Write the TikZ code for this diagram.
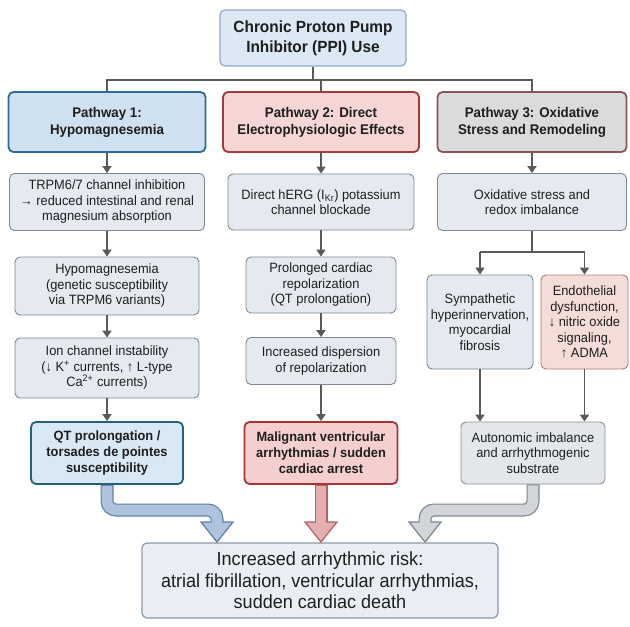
\documentclass[tikz,border=0pt]{standalone}
\usepackage{fontspec}
\setmainfont[FakeStretch=0.95]{Liberation Sans}
\usetikzlibrary{arrows.meta}
\definecolor{txt}{HTML}{1E1E1E}
\definecolor{arr}{HTML}{5A5A5A}
\definecolor{topfill}{HTML}{DCE9F5}
\definecolor{topdraw}{HTML}{8FAAC6}
\definecolor{pafill}{HTML}{CFE1F0}
\definecolor{padraw}{HTML}{2B6A99}
\definecolor{pbfill}{HTML}{F6D5D5}
\definecolor{pbdraw}{HTML}{A8393B}
\definecolor{pcfill}{HTML}{D9DBDD}
\definecolor{pcdraw}{HTML}{8C5555}
\definecolor{boxfill}{HTML}{E4EAF0}
\definecolor{boxdraw}{HTML}{7D8894}
\definecolor{qtfill}{HTML}{D8E8F5}
\definecolor{qtdraw}{HTML}{24607F}
\definecolor{mafill}{HTML}{F5CFCF}
\definecolor{madraw}{HTML}{A83436}
\definecolor{enfill}{HTML}{F4DDD9}
\definecolor{endraw}{HTML}{B07A74}
\definecolor{aufill}{HTML}{E4E7EA}
\definecolor{audraw}{HTML}{8A9096}
\definecolor{botfill}{HTML}{E8EEF3}
\definecolor{botdraw}{HTML}{8C9BA8}
\definecolor{fbl}{HTML}{AFC4DC}
\definecolor{fbd}{HTML}{5E7FA6}
\definecolor{fpl}{HTML}{E6AFAF}
\definecolor{fpd}{HTML}{B06464}
\definecolor{fgl}{HTML}{D2D6DA}
\definecolor{fgd}{HTML}{7E868E}
\begin{document}
\begin{tikzpicture}[x=1pt,y=-1pt,
  base/.style={rounded corners=5pt, align=center, inner sep=1pt, text=txt,
    font=\fontsize{13.5}{15.5}\selectfont},
  plain/.style={base, draw=boxdraw, fill=boxfill, line width=0.9pt},
  topbox/.style={base, draw=topdraw, fill=topfill, line width=1.2pt,
    font=\bfseries\fontsize{16.2}{20}\selectfont},
  head/.style={base, line width=1.8pt, font=\bfseries\fontsize{14}{17}\selectfont},
  strong/.style={base, line width=1.8pt, font=\bfseries\fontsize{13.5}{16}\selectfont},
  conn/.style={draw=arr, line width=1.8pt, -{Triangle[length=7pt,width=9pt]}},
  bus/.style={draw=arr, line width=1.8pt},
]
\useasboundingbox[fill=white] (0,0) rectangle (630,627);

% top
\node[topbox, minimum width=186pt, minimum height=56pt] (T) at (313,38)
  {Chronic Proton Pump\\Inhibitor (PPI) Use};

% headers
\node[head, draw=padraw, fill=pafill, minimum width=197pt, minimum height=60pt] (P1) at (107,122)
  {Pathway 1:\\Hypomagnesemia};
\node[head, draw=pbdraw, fill=pbfill, minimum width=196pt, minimum height=60pt] (P2) at (321,122)
  {Pathway 2: Direct\\Electrophysiologic Effects};
\node[head, draw=pcdraw, fill=pcfill, minimum width=189pt, minimum height=60pt] (P3) at (532,122)
  {Pathway 3: Oxidative\\Stress and Remodeling};

\coordinate (busy) at (313,80);
\draw[bus] (T.south) -- (T.south |- busy);
\draw[bus] (P1.north) -- (P1.north |- busy) -- (P3.north |- busy) -- (P3.north);
\draw[bus] (P2.north |- busy) -- (P2.north);

% column 1
\node[plain, minimum width=195pt, minimum height=57pt] (A1) at (107,202)
  {TRPM6/7 channel inhibition\\→ reduced intestinal and renal\\magnesium absorption};
\node[plain, minimum width=184pt, minimum height=58pt] (A2) at (107,286)
  {Hypomagnesemia\\(genetic susceptibility\\via TRPM6 variants)};
\node[plain, minimum width=184pt, minimum height=60pt] (A3) at (107,368)
  {Ion channel instability\\(↓ K\textsuperscript{+} currents, ↑ L-type\\Ca\textsuperscript{2+} currents)};
\node[strong, draw=qtdraw, fill=qtfill, minimum width=152pt, minimum height=62pt] (A4) at (107,453)
  {QT prolongation /\\torsades de pointes\\susceptibility};

% column 2
\node[plain, minimum width=186pt, minimum height=56pt] (B1) at (321,202)
  {Direct hERG (I\textsubscript{Kr}) potassium\\channel blockade};
\node[plain, minimum width=150pt, minimum height=56pt] (B2) at (321,285)
  {Prolonged cardiac\\repolarization\\(QT prolongation)};
\node[plain, minimum width=150pt, minimum height=47pt] (B3) at (321,361)
  {Increased dispersion\\of repolarization};
\node[strong, draw=madraw, fill=mafill, minimum width=153pt, minimum height=62pt] (B4) at (321,453)
  {Malignant ventricular\\arrhythmias / sudden\\cardiac arrest};

% column 3
\node[plain, minimum width=189pt, minimum height=57pt] (C1) at (532,202)
  {Oxidative stress and\\redox imbalance};
\node[plain, minimum width=106pt, minimum height=94pt] (C2) at (480,322)
  {Sympathetic\\hyperinnervation,\\myocardial\\fibrosis};
\node[plain, draw=endraw, fill=enfill, minimum width=87pt, minimum height=94pt] (C3) at (584.5,322)
  {Endothelial\\dysfunction,\\↓ nitric oxide\\signaling,\\↑ ADMA};
\node[plain, draw=audraw, fill=aufill, minimum width=144pt, minimum height=62pt] (C4) at (533,453)
  {Autonomic imbalance\\and arrhythmogenic\\substrate};

% bottom
\node[base, draw=botdraw, fill=botfill, line width=1.2pt, minimum width=356pt, minimum height=75pt,
  font=\fontsize{19}{21.5}\selectfont] (D) at (320,580.5)
  {Increased arrhythmic risk:\\atrial fibrillation, ventricular arrhythmias,\\sudden cardiac death};

% connectors
\draw[conn] (P1.south) -- (P1.south |- A1.north);
\draw[conn] (A1) -- (A2);
\draw[conn] (A2) -- (A3);
\draw[conn] (A3) -- (A4);
\draw[conn] (P2.south) -- (P2.south |- B1.north);
\draw[conn] (B1) -- (B2);
\draw[conn] (B2) -- (B3);
\draw[conn] (B3) -- (B4);
\draw[conn] (P3.south) -- (P3.south |- C1.north);
\coordinate (br) at (532,252);
\draw[bus] (C1.south) -- (br);
\draw[conn] (C2.north |- br) -- (C2.north);
\draw[conn] (C3.north |- br) -- (C3.north);
\draw[bus] (C2.north |- br) -- (C3.north |- br);
\draw[conn] (C2.south) -- (C2.south |- C4.north);
\draw[conn] (C3.south) -- (C3.south |- C4.north);

% fat arrows
\coordinate (bt) at (217,542);
\coordinate (pt) at (321,542);
\coordinate (gt) at (425,542);
% blue
\draw[fbd, line width=13pt, rounded corners=9pt] (A4.south) -- (107,510) -- (217,510) -- (217,522);
\filldraw[fill=fbl, draw=fbd, line width=1.2pt] (201,522) -- (233,522) -- (bt) -- cycle;
\draw[fbl, line width=10.6pt, rounded corners=9pt] ([yshift=-1pt]A4.south) -- (107,510) -- (217,510) -- (217,523.5);
% pink
\draw[fpd, line width=13pt] (B4.south) -- (321,522);
\filldraw[fill=fpl, draw=fpd, line width=1.2pt] (305,522) -- (337,522) -- (pt) -- cycle;
\draw[fpl, line width=10.6pt] ([yshift=-1pt]B4.south) -- (321,523.5);
% gray
\draw[fgd, line width=13pt, rounded corners=9pt] (C4.south) -- (533,510) -- (425,510) -- (425,522);
\filldraw[fill=fgl, draw=fgd, line width=1.2pt] (409,522) -- (441,522) -- (gt) -- cycle;
\draw[fgl, line width=10.6pt, rounded corners=9pt] ([yshift=-1pt]C4.south) -- (533,510) -- (425,510) -- (425,523.5);
\end{tikzpicture}
\end{document}
